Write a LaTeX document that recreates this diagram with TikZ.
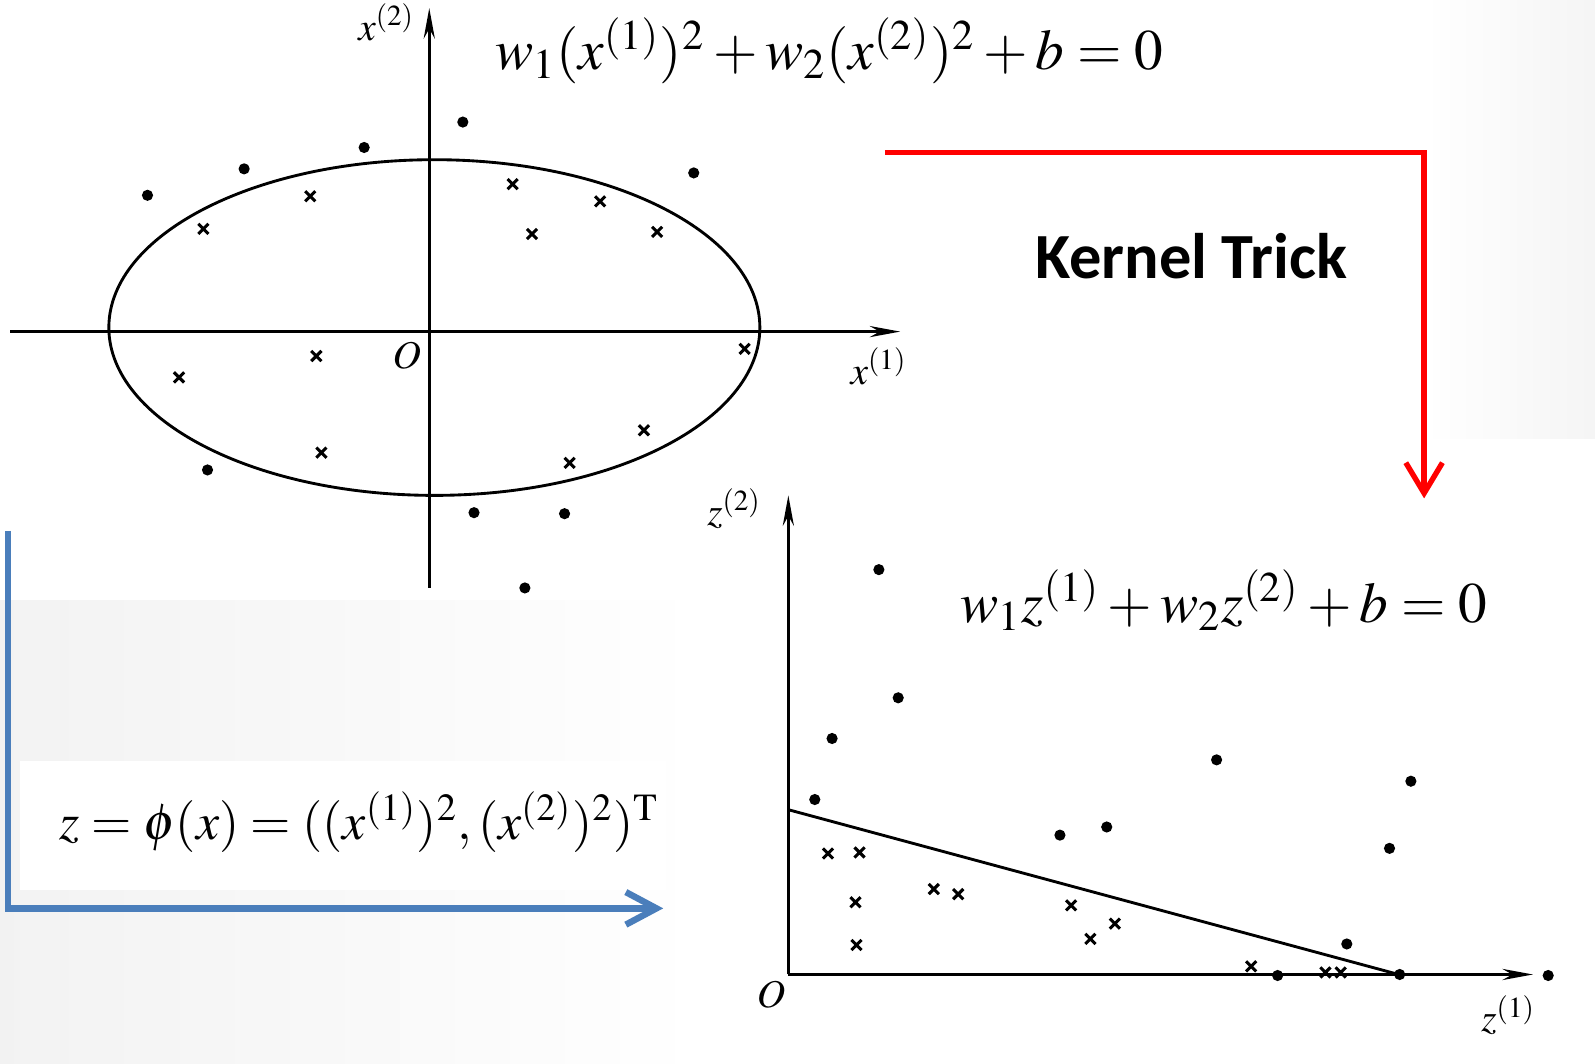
\documentclass[tikz,border=0pt]{standalone}
\usepackage{amsmath}
\usepackage{mathptmx}
\usepackage[no-math]{fontspec}
\newfontfamily\slidefont{Carlito}
\usepackage{xcolor}
\usetikzlibrary{arrows.meta, positioning, calc}

\definecolor{kred}{RGB}{255,0,0}
\definecolor{mapblue}{RGB}{74,126,187}

\tikzset{
  axis/.style={line width=0.75pt, -{Stealth[length=3mm, width=1.1mm]}},
  datadot/.style={fill=black},
  cross/.pic={\draw[line width=0.85pt] (-5,-5) -- (5,5) (-5,5) -- (5,-5);},
  axislabel/.style={font=\fontsize{11}{13}\selectfont, inner sep=1pt},
  eqn/.style={font=\fontsize{16}{19}\selectfont, inner sep=1pt},
  kernelarrow/.style={draw=kred, line width=1.5pt, -{Straight Barb[length=3mm, width=3.6mm]}},
  maparrow/.style={draw=mapblue, line width=1.8pt, -{Straight Barb[length=3mm, width=3.2mm]}}
}

\begin{document}
\begin{tikzpicture}[x=0.01cm, y=-0.01cm, >=Stealth]
        \useasboundingbox (0,0) rectangle (1568,1046);

        % Slide background
        \fill[white] (0,0) rectangle (1568,1046);
        \shade[left color=black!5, right color=white] (0,590) rectangle (690,1046);
        \shade[left color=white, right color=black!4] (1400,0) rectangle (1568,432);
        \fill[white] (683,432) rectangle (1568,1046);
        \fill[white] (20,748) rectangle (655,875);

        % Input space: axes and ellipse
        \draw[axis] (10,326) -- (885,326);
        \draw[axis] (422,578) -- (422,8);
        \draw[line width=0.8pt] (427,322) ellipse [x radius=320, y radius=165];
        \node[axislabel] (xtwo) at (380,22) {$x^{(2)}$};
        \node[axislabel] (xone) at (864,360) {$x^{(1)}$};
        \node[axislabel] (origx) at (400,350) {$O$};

        % Input space: points outside and inside
        \foreach \p in {(145,192),(240,166),(358,145),(455,120),(682,170),
                        (204,462),(466,504),(555,505),(516,578)}
          \fill[datadot] \p circle (5.5);
        \foreach \p in {(200,225),(305,193),(504,181),(590,198),(523,230),(646,228),
                        (176,371),(311,350),(316,445),(560,455),(633,423),(732,343)}
          \pic at \p {cross};

        \node[eqn] (ellipseeq) at (815,50) {$w_1(x^{(1)})^2 + w_2(x^{(2)})^2 + b = 0$};

        % Feature space: axes and separating line
        \draw[axis] (775,958) -- (775,487);
        \draw[axis] (775,958) -- (1507,958);
        \draw[line width=0.8pt] (775,796) -- (1375,958);
        \node[axislabel] (ztwo) at (722,500) {$z^{(2)}$};
        \node[axislabel] (zone) at (1483,998) {$z^{(1)}$};
        \node[axislabel] (origz) at (758,978) {$O$};

        % Feature space: points
        \foreach \p in {(864,560),(883,686),(818,726),(801,786),(1196,747),(1387,768),
                        (1042,821),(1088,813),(1366,834),(1324,928),(1256,959),
                        (1376,958),(1522,959)}
          \fill[datadot] \p circle (5.5);
        \foreach \p in {(814,839),(845,838),(841,887),(842,929),(918,874),(942,879),
                        (1053,890),(1072,923),(1096,908),(1230,950),(1303,956),(1318,956)}
          \pic at \p {cross};

        \node[eqn] (lineeq) at (1203,590) {$w_1 z^{(1)} + w_2 z^{(2)} + b = 0$};

        % Feature map
        \node[eqn, font=\fontsize{14.5}{17}\selectfont] (mapeq) at (353,808) {$z = \phi(x) = ((x^{(1)})^2, (x^{(2)})^2)^{\mathrm{T}}$};

        % Arrows between the two spaces
        \node[font=\slidefont\bfseries\fontsize{18}{22}\selectfont] (trick) at (1171,252) {Kernel Trick};
        \coordinate (redA) at (870,150);
        \coordinate (redB) at (1400,490);
        \draw[kernelarrow] (redA) -| (redB);
        \coordinate (blueA) at (8,522);
        \coordinate (blueB) at (652,893);
        \draw[maparrow] (blueA) |- (blueB);
\end{tikzpicture}
\end{document}
